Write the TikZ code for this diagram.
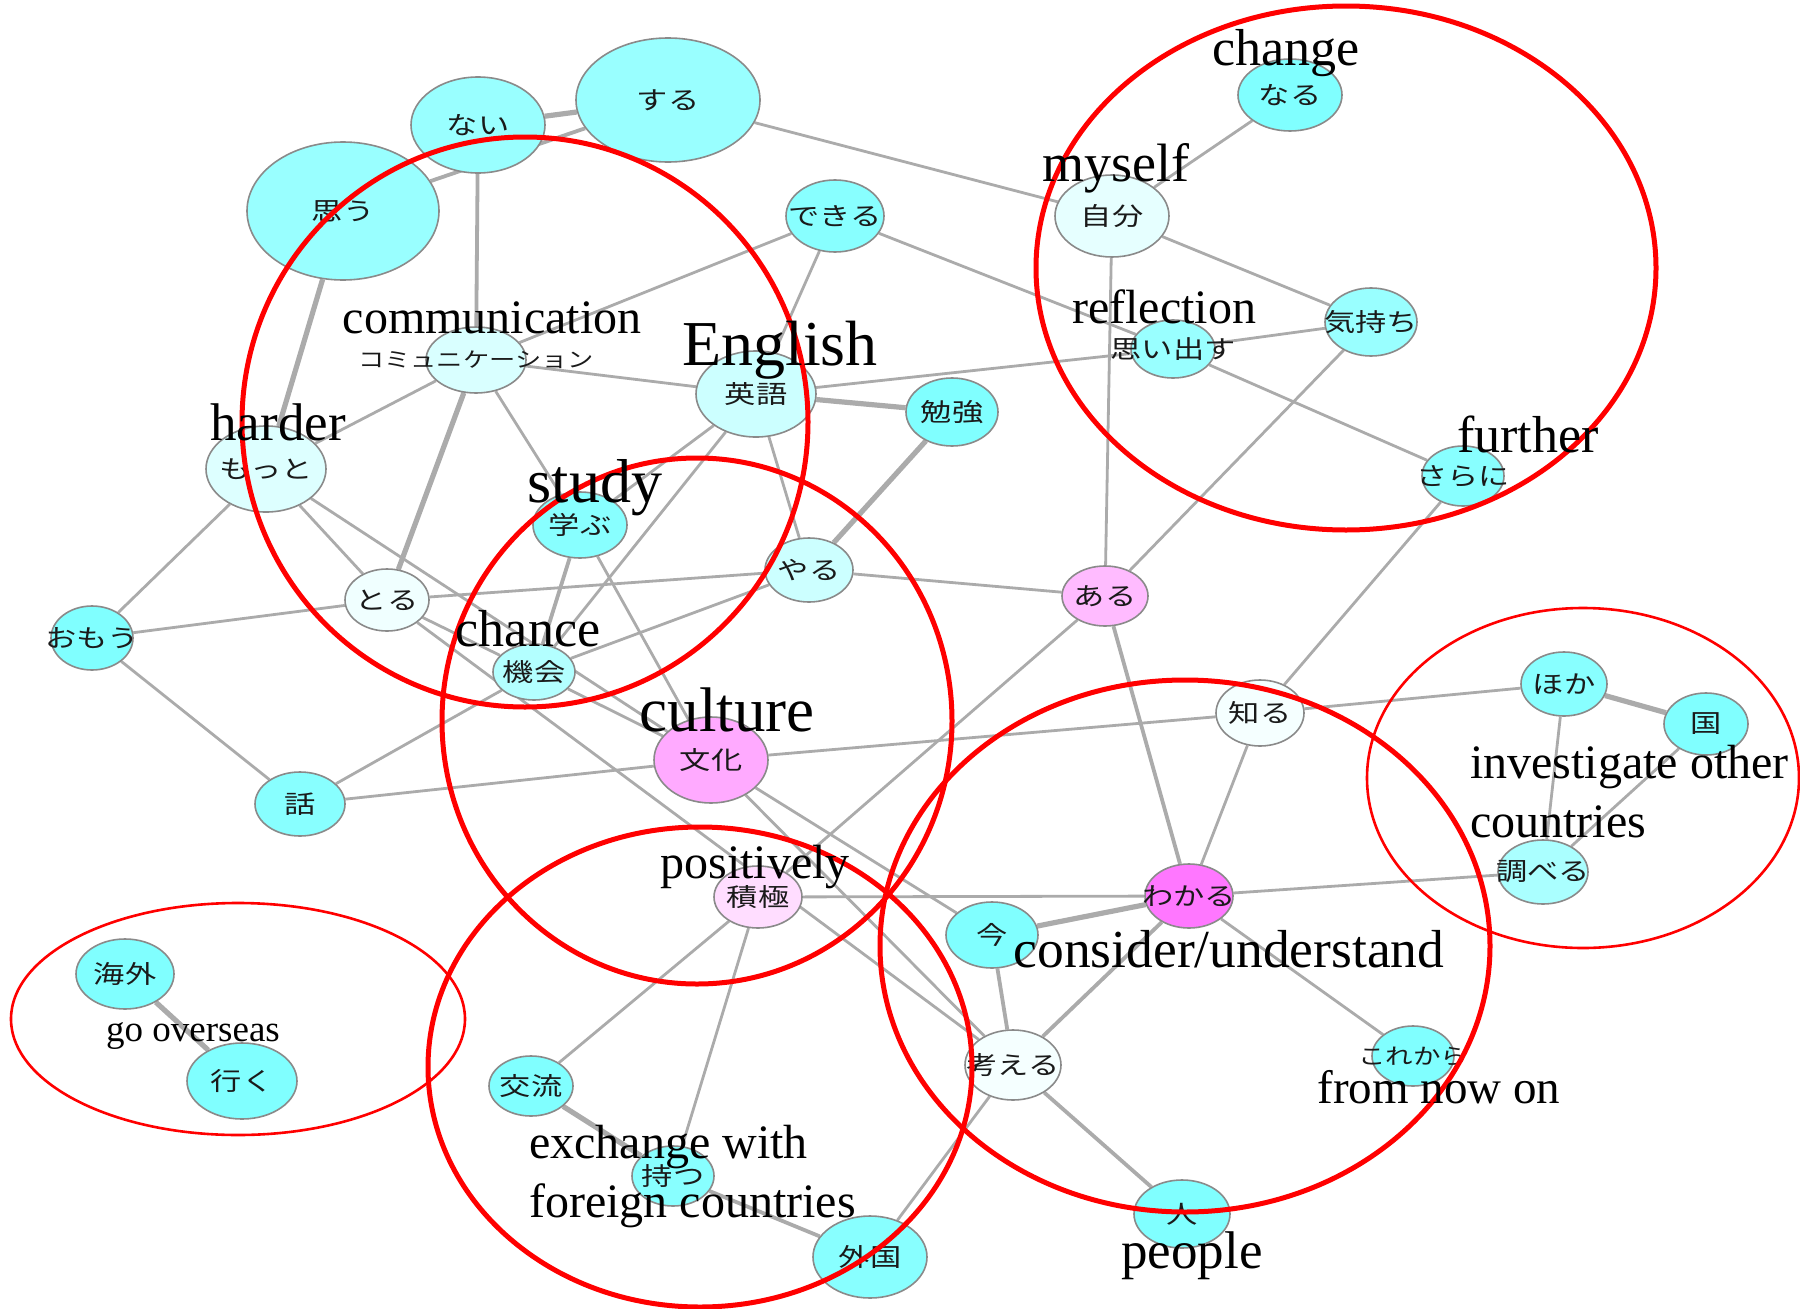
\documentclass[tikz,border=0pt]{standalone}
\usepackage{fontspec}
\setmainfont{Liberation Serif}
\newfontfamily\jp{Noto Sans CJK JP}
\usetikzlibrary{shapes.geometric,backgrounds}

\definecolor{edgegray}{HTML}{ABABAB}
\definecolor{rimgray}{HTML}{8A8A8A}
\definecolor{ringred}{HTML}{FF0000}
\definecolor{inkjp}{HTML}{1A1A1A}

\tikzset{
  kwbox/.style={ellipse, draw=rimgray, line width=1.6pt, inner sep=0pt},
  kwtext/.style={inner sep=0pt, text=inkjp, font=\jp\fontsize{25}{25}\selectfont},
  link/.style={draw=edgegray, line width=2.8pt},
  midlink/.style={draw=edgegray, line width=3.8pt},
  heavylink/.style={draw=edgegray, line width=5.2pt},
  ring/.style={draw=ringred, line width=5pt},
  thinring/.style={draw=ringred, line width=2.6pt},
  lab/.style={inner sep=0pt, text=black}
}

% keyword bubble: name, x, y, width, height, fill (HTML), text
\newcommand{\kw}[7]{%
  \definecolor{kwfill}{HTML}{#6}%
  \node[kwbox, fill=kwfill, minimum width=#4pt, minimum height=#5pt] (#1) at (#2,#3) {};%
  \node[kwtext] (#1-t) at (#1.center) {\scalebox{1.25}[1]{#7}};%
}

\begin{document}
\begin{tikzpicture}[x=1pt, y=-1pt]
\path[use as bounding box] (0,0) rectangle (1800,1309);

% ---- keyword bubbles ----
\kw{suru}{668}{100}{184}{124}{99FFFF}{する}
\kw{nai}{478}{125}{134}{96}{99FFFF}{ない}
\kw{omou}{343}{211}{192}{138}{99FFFF}{思う}
\kw{dekiru}{835}{216}{98}{72}{88FFFF}{できる}
\kw{comm}{476}{360}{100}{66}{D9FFFF}{\fontsize{21}{21}\selectfont コミュニケーション}
\kw{eigo}{756}{394}{120}{86}{CCFFFF}{英語}
\kw{motto}{266}{469}{120}{86}{DDFFFF}{もっと}
\kw{manabu}{580}{525}{94}{66}{88FFFF}{学ぶ}
\kw{yaru}{809}{570}{88}{64}{CCFFFF}{やる}
\kw{toru}{387}{600}{84}{62}{F0FFFF}{とる}
\kw{omouh}{92}{638}{82}{64}{80FFFF}{おもう}
\kw{naru}{1290}{95}{104}{72}{80FFFF}{なる}
\kw{jibun}{1112}{216}{114}{82}{E6FFFF}{自分}
\kw{kimochi}{1371}{322}{92}{68}{99FFFF}{気持ち}
\kw{omoidasu}{1173}{349}{84}{58}{99FFFF}{思い出す}
\kw{benkyo}{952}{412}{92}{68}{80FFFF}{勉強}
\kw{sarani}{1463}{476}{82}{60}{88FFFF}{さらに}
\kw{aru}{1105}{596}{86}{60}{FFBBFF}{ある}
\kw{kikai}{534}{672}{82}{56}{B3FFFF}{機会}
\kw{bunka}{711}{760}{114}{86}{FFAAFF}{文化}
\kw{hanashi}{300}{804}{90}{64}{88FFFF}{話}
\kw{sekkyoku}{758}{897}{88}{62}{FFDDFF}{積極}
\kw{kaigai}{125}{974}{98}{70}{80FFFF}{海外}
\kw{iku}{242}{1081}{110}{76}{80FFFF}{行く}
\kw{koryu}{531}{1086}{84}{60}{80FFFF}{交流}
\kw{motsu}{673}{1176}{82}{60}{88FFFF}{持つ}
\kw{gaikoku}{870}{1257}{114}{82}{88FFFF}{外国}
\kw{shiru}{1260}{713}{88}{66}{F5FFFF}{知る}
\kw{hoka}{1564}{684}{86}{64}{88FFFF}{ほか}
\kw{kuni}{1706}{724}{84}{62}{80FFFF}{国}
\kw{shiraberu}{1543}{872}{90}{64}{AAFFFF}{調べる}
\kw{wakaru}{1189}{896}{88}{64}{FF77FF}{わかる}
\kw{ima}{992}{935}{92}{66}{80FFFF}{今}
\kw{kangaeru}{1013}{1065}{96}{70}{F5FFFF}{考える}
\kw{korekara}{1413}{1056}{82}{60}{80FFFF}{\fontsize{22}{22}\selectfont これから}
\kw{hito}{1182}{1214}{96}{68}{80FFFF}{人}

% ---- co-occurrence links ----
\begin{scope}[on background layer]
\draw[midlink] (omou) -- (suru);
\draw[heavylink] (nai) -- (suru);
\draw[midlink] (nai) -- (comm);
\draw[heavylink] (omou) -- (motto);
\draw[link] (suru) -- (jibun);
\draw[link] (dekiru) -- (comm);
\draw[link] (dekiru) -- (eigo);
\draw[link] (dekiru) -- (omoidasu);
\draw[link] (comm) -- (eigo);
\draw[link] (comm) -- (motto);
\draw[heavylink] (comm) -- (toru);
\draw[link] (comm) -- (manabu);
\draw[heavylink] (eigo) -- (benkyo);
\draw[link] (eigo) -- (omoidasu);
\draw[link] (eigo) -- (yaru);
\draw[link] (eigo) -- (manabu);
\draw[link] (eigo) -- (kikai);
\draw[heavylink] (benkyo) -- (yaru);
\draw[link] (motto) -- (omouh);
\draw[link] (motto) -- (toru);
\draw[link] (motto) -- (bunka);
\draw[link] (omouh) -- (toru);
\draw[link] (omouh) -- (hanashi);
\draw[link] (toru) -- (yaru);
\draw[link] (toru) -- (kikai);
\draw[link] (toru) -- (kangaeru);
\draw[link] (kikai) -- (bunka);
\draw[link] (hanashi) -- (kikai);
\draw[link] (hanashi) -- (bunka);
\draw[midlink] (manabu) -- (kikai);
\draw[link] (manabu) -- (bunka);
\draw[link] (kikai) -- (yaru);
\draw[link] (bunka) -- (shiru);
\draw[link] (bunka) -- (ima);
\draw[link] (bunka) -- (kangaeru);
\draw[link] (shiru) -- (hoka);
\draw[link] (shiru) -- (sarani);
\draw[link] (shiru) -- (wakaru);
\draw[link] (naru) -- (jibun);
\draw[link] (jibun) -- (kimochi);
\draw[link] (jibun) -- (aru);
\draw[link] (omoidasu) -- (kimochi);
\draw[link] (omoidasu) -- (sarani);
\draw[link] (kimochi) -- (aru);
\draw[link] (yaru) -- (aru);
\draw[midlink] (aru) -- (wakaru);
\draw[link] (aru) -- (sekkyoku);
\draw[link] (sekkyoku) -- (wakaru);
\draw[link] (sekkyoku) -- (koryu);
\draw[link] (sekkyoku) -- (motsu);
\draw[heavylink] (koryu) -- (motsu);
\draw[midlink] (motsu) -- (gaikoku);
\draw[link] (wakaru) -- (shiraberu);
\draw[heavylink] (wakaru) -- (ima);
\draw[midlink] (wakaru) -- (kangaeru);
\draw[link] (wakaru) -- (korekara);
\draw[midlink] (ima) -- (kangaeru);
\draw[midlink] (kangaeru) -- (hito);
\draw[link] (kangaeru) -- (gaikoku);
\draw[heavylink] (hoka) -- (kuni);
\draw[link] (hoka) -- (shiraberu);
\draw[link] (kuni) -- (shiraberu);
\draw[heavylink] (kaigai) -- (iku);
\end{scope}

% ---- theme rings ----
\draw[ring] (525,422) ellipse [x radius=283pt, y radius=285pt];
\draw[ring] (1346,268) ellipse [x radius=310pt, y radius=262pt];
\draw[ring] (697,721) ellipse [x radius=255pt, y radius=263pt];
\draw[ring] (700,1067) ellipse [x radius=272pt, y radius=240pt];
\draw[ring] (1185,946) ellipse [x radius=305pt, y radius=266pt];
\draw[thinring] (238,1019) ellipse [x radius=227pt, y radius=116pt];
\draw[thinring] (1583,778) ellipse [x radius=216pt, y radius=170pt];

% ---- English glosses ----
\node[lab, anchor=base, font=\fontsize{52}{52}\selectfont] (lChange) at (1286,65) {change};
\node[lab, anchor=base, font=\fontsize{54}{54}\selectfont] (lMyself) at (1116,181) {myself};
\node[lab, anchor=base, font=\fontsize{48}{48}\selectfont] (lReflection) at (1164,323) {reflection};
\node[lab, anchor=base, font=\fontsize{52}{52}\selectfont] (lFurther) at (1528,452) {further};
\node[lab, anchor=base, font=\fontsize{48}{48}\selectfont] (lComm) at (492,333) {communication};
\node[lab, anchor=base, font=\fontsize{64}{64}\selectfont] (lEnglish) at (780,365) {English};
\node[lab, anchor=base, font=\fontsize{53}{53}\selectfont] (lHarder) at (278,440) {harder};
\node[lab, anchor=base, font=\fontsize{62}{62}\selectfont] (lStudy) at (595,502) {study};
\node[lab, anchor=base, font=\fontsize{52}{52}\selectfont] (lChance) at (528,646) {chance};
\node[lab, anchor=base, font=\fontsize{63}{63}\selectfont] (lCulture) at (727,731) {culture};
\node[lab, anchor=base, font=\fontsize{48}{48}\selectfont] (lPositively) at (755,878) {positively};
\node[lab, anchor=base, font=\fontsize{37}{37}\selectfont] (lOverseas) at (193,1041) {go overseas};
\node[lab, anchor=base west, font=\fontsize{48}{48}\selectfont] (lExchangeA) at (529,1158) {exchange with};
\node[lab, anchor=base west, font=\fontsize{48}{48}\selectfont] (lExchangeB) at (529,1217) {foreign countries};
\node[lab, anchor=base, font=\fontsize{53.5}{53.5}\selectfont] (lConsider) at (1229,967) {consider/understand};
\node[lab, anchor=base, font=\fontsize{47}{47}\selectfont] (lFromNow) at (1439,1103) {from now on};
\node[lab, anchor=base, font=\fontsize{53}{53}\selectfont] (lPeople) at (1192,1268) {people};
\node[lab, anchor=base west, font=\fontsize{48}{48}\selectfont] (lInvestA) at (1470,778) {investigate other};
\node[lab, anchor=base west, font=\fontsize{48}{48}\selectfont] (lInvestB) at (1470,837) {countries};
\end{tikzpicture}
\end{document}
